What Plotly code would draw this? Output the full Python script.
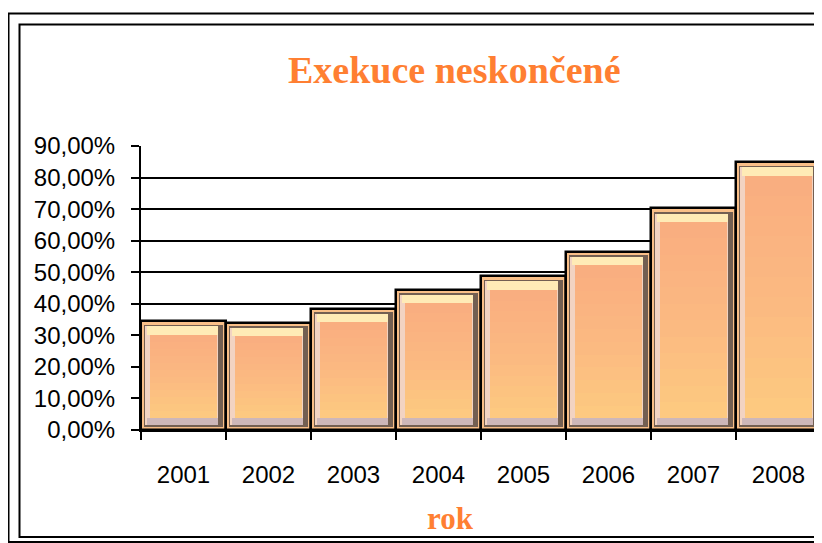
import plotly.graph_objects as go

# ---- data ----
years = ["2001", "2002", "2003", "2004", "2005", "2006", "2007", "2008"]
values = [34.5, 34.0, 38.5, 44.5, 48.7, 56.5, 70.2, 84.9]
y_tickvals = [0, 10, 20, 30, 40, 50, 60, 70, 80, 90]
y_ticktext = ["0,00%", "10,00%", "20,00%", "30,00%", "40,00%",
              "50,00%", "60,00%", "70,00%", "80,00%", "90,00%"]
title_text = "Exekuce neskončené"
x_title = "rok"

# ---- style ----
ORANGE = "#FF7F32"
RIM_X, RIM_Y = 0.035, 1.1     # outer rim thickness (category units / data units)
BEV_X, BEV_Y = 0.07, 2.6      # bevel thickness
TOP_Y = 3.2                   # top highlight thickness
DARK_X = 0.06                 # dark right bevel width

n = len(years)
fig = go.Figure()


def layer(x0, x1, bottom, top, color, line_w=0, line_c="black"):
    fig.add_trace(go.Bar(
        x=years, y=[t - b for t, b in zip(top, bottom)], base=bottom,
        offset=[x0] * n, width=[x1 - x0] * n,
        marker=dict(color=color, line=dict(width=line_w, color=line_c)),
        hoverinfo="skip", showlegend=False))


def mix(c1, c2, t):
    a = [int(c1[i:i + 2], 16) for i in (1, 3, 5)]
    b = [int(c2[i:i + 2], 16) for i in (1, 3, 5)]
    return "#" + "".join(f"{round(x + (y - x) * t):02X}" for x, y in zip(a, b))


zeros = [0] * n
lo = [RIM_Y] * n
hi = [v - RIM_Y for v in values]
# outer body with black outline
layer(-0.5, 0.5, zeros, values, "#F9BF88", 2.5)
# dark bevel frame
layer(-0.5 + RIM_X, 0.5 - RIM_X, lo, hi, "#735F52")
# left light bevel (leaves dark band on the right)
layer(-0.5 + RIM_X + 0.012, 0.5 - RIM_X - DARK_X, [RIM_Y + 0.5] * n,
      [v - RIM_Y - 0.5 for v in values], "#F2D3C2")
# bottom bevel
layer(-0.5 + RIM_X + BEV_X * 0.5, 0.5 - RIM_X - DARK_X,
      [RIM_Y + 0.5] * n, [RIM_Y + BEV_Y] * n, "#CDB7B9")
# top highlight bevel
layer(-0.5 + RIM_X + BEV_X * 0.5, 0.5 - RIM_X - DARK_X,
      [v - RIM_Y - TOP_Y for v in values], [v - RIM_Y - 0.5 for v in values],
      "#FFEBB6")
# face with vertical gradient (salmon top -> yellow bottom)
face_lo = [RIM_Y + BEV_Y] * n
face_hi = [v - RIM_Y - TOP_Y for v in values]
BANDS = 12
top_c, mid_c, bot_c = "#F9AD80", "#FBB981", "#FDCA80"
for k in range(BANDS):
    t0, t1 = k / BANDS, (k + 1) / BANDS
    tc = (t0 + t1) / 2
    col = mix(bot_c, mid_c, tc * 2) if tc < 0.5 else mix(mid_c, top_c, (tc - 0.5) * 2)
    layer(-0.5 + RIM_X + BEV_X, 0.5 - RIM_X - DARK_X - 0.01,
          [a + (b - a) * t0 for a, b in zip(face_lo, face_hi)],
          [a + (b - a) * t1 for a, b in zip(face_lo, face_hi)], col)

# the page body adds an 8px offset; reference pixel coords are shifted by it
OFF = 8
W, H = 822 - OFF, 543 - OFF
L, T = 141 - OFF, 146 - OFF
R = W - (821 - OFF)
B = H - (430 - OFF)
pw, ph = W - L - R, H - T - B


def px(xp):
    return (xp - OFF - L) / pw


def py(yp):
    return (H - B - (yp - OFF)) / ph


fig.update_layout(
    width=W, height=H,
    margin=dict(l=L, r=R, t=T, b=B, pad=0),
    paper_bgcolor="white", plot_bgcolor="white",
    barmode="overlay", bargap=0,
    showlegend=False,
    font=dict(family="Liberation Sans, Arial, sans-serif", color="black", size=24),
    xaxis=dict(
        type="category", tickson="boundaries", ticks="outside", ticklen=8,
        tickwidth=1.5, tickcolor="black", showline=True, linecolor="black",
        linewidth=2, showgrid=False, tickfont=dict(size=24),
        ticklabelstandoff=22, range=[-0.5, n - 0.5], fixedrange=True),
    yaxis=dict(
        range=[0, 90], tickvals=y_tickvals, ticktext=y_ticktext,
        ticks="outside", ticklen=8, tickwidth=1.5, tickcolor="black",
        showline=True, linecolor="black", linewidth=2,
        showgrid=True, gridcolor="black", gridwidth=1.5,
        zeroline=False, tickfont=dict(size=24), ticklabelstandoff=11,
        fixedrange=True),
    annotations=[
        dict(text=title_text, xref="paper", yref="paper", x=px(454), y=py(70),
             xanchor="center", yanchor="middle", showarrow=False,
             font=dict(family="Liberation Serif, Times New Roman, serif",
                       size=38, color=ORANGE, weight="bold")),
        dict(text=x_title, xref="paper", yref="paper", x=px(450), y=py(518),
             xanchor="center", yanchor="middle", showarrow=False,
             font=dict(family="Liberation Serif, Times New Roman, serif",
                       size=31, color=ORANGE, weight="bold")),
    ],
    shapes=[
        dict(type="rect", xref="paper", yref="paper",
             x0=px(8.5), x1=px(900), y0=py(542), y1=py(13.5),
             line=dict(color="black", width=2), layer="below"),
        dict(type="rect", xref="paper", yref="paper",
             x0=px(19.5), x1=px(890), y0=py(537), y1=py(24.5),
             line=dict(color="black", width=2), layer="below"),
    ],
)

fig.write_html("out.html")
